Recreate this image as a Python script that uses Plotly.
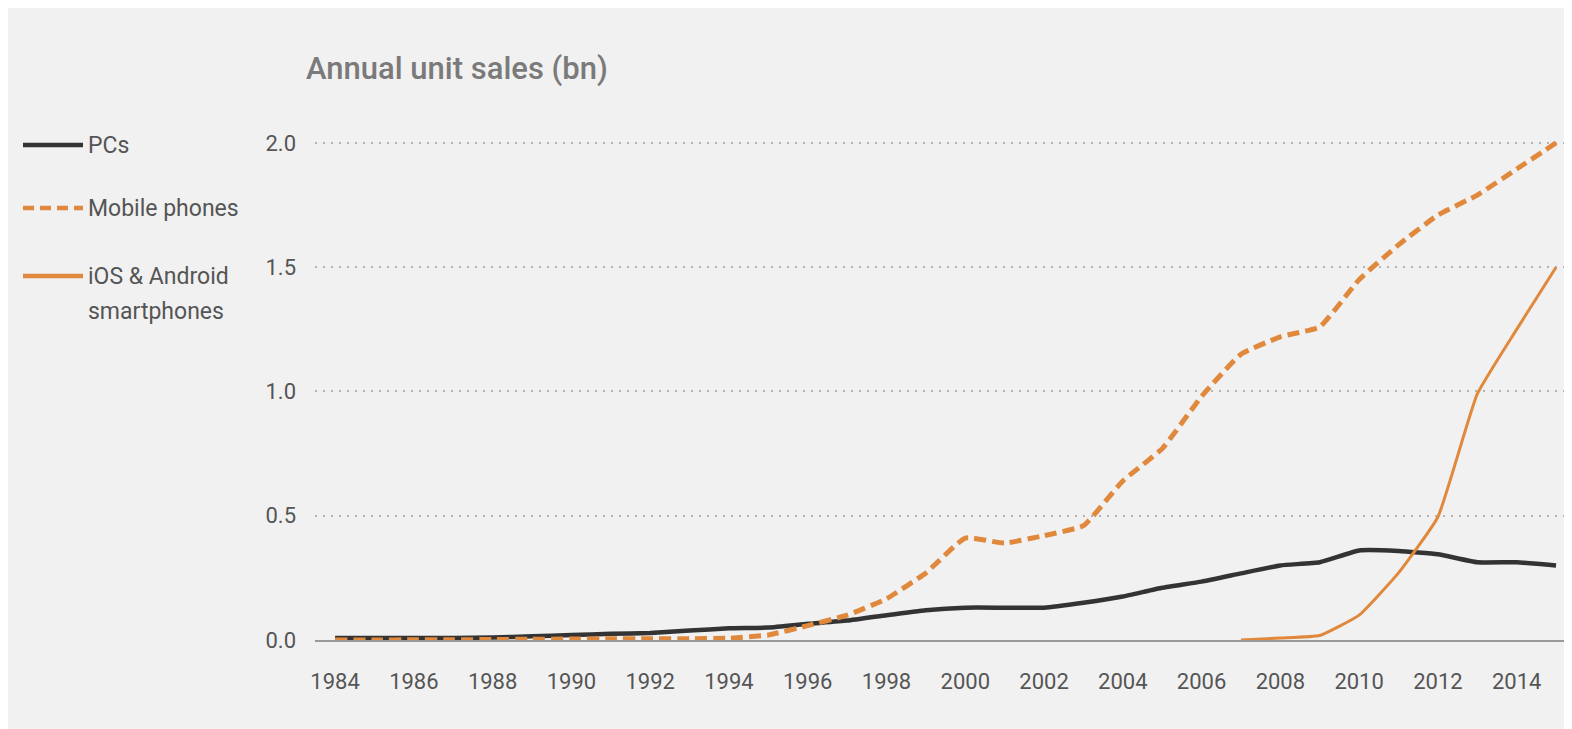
import plotly.graph_objects as go

# ---- data ----
years = list(range(1984, 2016))
pcs = [0.008, 0.008, 0.008, 0.008, 0.010, 0.015, 0.020, 0.025, 0.028, 0.038,
       0.047, 0.050, 0.065, 0.078, 0.100, 0.120, 0.130, 0.130, 0.130, 0.150,
       0.175, 0.210, 0.235, 0.268, 0.300, 0.313, 0.360, 0.358, 0.345, 0.313,
       0.313, 0.300]
mobile = [0.000, 0.000, 0.001, 0.001, 0.002, 0.003, 0.004, 0.005, 0.005, 0.005,
          0.007, 0.020, 0.058, 0.100, 0.166, 0.270, 0.410, 0.390, 0.420, 0.460,
          0.640, 0.770, 0.980, 1.150, 1.220, 1.260, 1.450, 1.590, 1.710, 1.790,
          1.895, 2.000]
smart_years = list(range(2007, 2016))
smartphones = [0.000, 0.008, 0.018, 0.100, 0.270, 0.495, 0.990, 1.250, 1.500]

x_ticks = list(range(1984, 2015, 2))
y_ticks = [0.0, 0.5, 1.0, 1.5, 2.0]
y_ticktext = ["0.0", "0.5", "1.0", "1.5", "2.0"]

series_names = ["PCs", "Mobile phones", "iOS & Android", "smartphones"]
title_text = "Annual unit sales (bn)"

# ---- style ----
W, H = 1572, 729
ML, MR, MT, MB = 307, 7, 125, 97
PW, PH = W - ML - MR, H - MT - MB
BG = "#f1f1f1"
DARK = "#333333"
ORANGE = "#e0893c"
FONT = "Roboto"


def px_x(px):
    return (px - ML) / PW


def px_y(py):
    return (H - MB - py) / PH


fig = go.Figure()
fig.add_trace(go.Scatter(x=years, y=pcs, mode="lines", name="PCs",
                         line=dict(color=DARK, width=4.5, shape="spline", smoothing=0.4),
                         showlegend=False))
fig.add_trace(go.Scatter(x=years, y=mobile, mode="lines", name="Mobile phones",
                         line=dict(color=ORANGE, width=5, dash="12px,6px",
                                   shape="spline", smoothing=0.4),
                         showlegend=False))
fig.add_trace(go.Scatter(x=smart_years, y=smartphones, mode="lines",
                         name="iOS & Android smartphones",
                         line=dict(color=ORANGE, width=3, shape="spline", smoothing=0.4),
                         showlegend=False))

# legend (manual)
legend_items = [
    (137, dict(color=DARK, width=4.5)),
    (200, dict(color=ORANGE, width=4.5, dash="11px,6px")),
    (268, dict(color=ORANGE, width=4.5)),
]
for (py, ln) in legend_items:
    fig.add_shape(type="line", xref="paper", yref="paper",
                  x0=px_x(15), x1=px_x(75), y0=px_y(py), y1=px_y(py), line=ln)
legend_text_pos = [137, 200, 268, 303]
for name, py in zip(series_names, legend_text_pos):
    fig.add_annotation(text=name, xref="paper", yref="paper", x=px_x(78), y=px_y(py),
                       xanchor="left", yanchor="middle", showarrow=False,
                       font=dict(family=FONT, size=23, color="#555555"))

fig.add_annotation(text=title_text, xref="paper", yref="paper", x=px_x(296), y=px_y(60),
                   xanchor="left", yanchor="middle", showarrow=False,
                   font=dict(family=FONT, size=31, color="#7a7a7a", weight=500))

fig.update_layout(
    width=W, height=H,
    margin=dict(l=ML, r=MR, t=MT, b=MB, pad=0),
    paper_bgcolor=BG, plot_bgcolor=BG,
    font=dict(family=FONT, color="#555555"),
    showlegend=False,
    xaxis=dict(range=[1983.49, 2015.43], tickvals=x_ticks, showgrid=False,
               zeroline=False, showline=True, linecolor="#9a9a9a", linewidth=2,
               ticks="", ticklabelstandoff=21, layer="below traces",
               tickfont=dict(family=FONT, size=22, color="#555555")),
    yaxis=dict(range=[0, 2.04], tickvals=y_ticks, ticktext=y_ticktext,
               showgrid=True, gridcolor="#b3b3b3", gridwidth=2, griddash="2px,6px",
               zeroline=False, showline=False, ticks="", ticklabelstandoff=18,
               tickfont=dict(family=FONT, size=22, color="#555555")),
)

fig.write_html("out.html")
